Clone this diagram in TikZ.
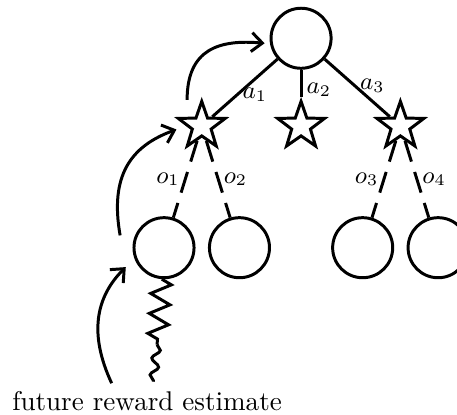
\documentclass[tikz,border=0pt]{standalone}
\usetikzlibrary{positioning, arrows.meta, shapes, decorations.pathmorphing}
\tikzset{
        >={Straight Barb[length=4pt,width=7pt]}, % open arrow heads
        line join=round,
    }
\tikzstyle{vertex}=[draw,circle,minimum size=0.78cm,inner sep=0pt]
\tikzstyle{starvertex}=[draw,star,star points=5,star point ratio=2.5,minimum size=0.64cm,inner sep=0pt]
\tikzstyle{lbl}=[font=\small,inner sep=1.5pt]

\begin{document}
\begin{tikzpicture}[line width=1.1pt,
    level 1/.style={level distance=1.14cm, sibling distance=1.29cm},
    level 2/.style={level distance=1.58cm, sibling distance=0.98cm,
        edge from parent/.style={draw,dash pattern=on 8pt off 4pt}}]
    \useasboundingbox (0,0) rectangle (5.935,5.377);
    \node[vertex] (root) at (3.91,4.88)
    {}
        child {
            node[starvertex] (act1) {}
            child {
                node[vertex] (obs1) {}
                edge from parent node[lbl,left,pos=0.5] {$o_1$}
            }
            child {
                node[vertex] (obs2) {}
                edge from parent node[lbl,right,pos=0.5] {$o_2$}
            }
            edge from parent node[lbl,right,pos=0.62] {$a_1$}
        } child {
            node[starvertex] (act2) {}
            edge from parent node[lbl,right,pos=0.75] {$a_2$}
        } child {
            node[starvertex] (act3) {}
            child {
                node[vertex] (obs3) {}
                edge from parent node[lbl,left,pos=0.5] {$o_3$}
            }
            child {
                node[vertex] (obs4) {}
                edge from parent node[lbl,right,pos=0.5] {$o_4$}
            }
            edge from parent node[lbl,right,pos=0.46] {$a_3$}
        }
    ;
    % rollout from the first observation
    \coordinate (wave) at (2.04,0.90);
    \coordinate (est) at (1.99,0.42);
    \draw[decorate,decoration={zigzag,segment length=0.26cm,amplitude=0.13cm}] (obs1) -- (wave);
    \draw[decorate,decoration={snake,segment length=0.22cm,amplitude=0.05cm}] (wave) -- (est);
    \node (caption) at (1.91,0.17) {future reward estimate};
    % backup arrows
    \coordinate (up1) at (2.43,4.08);
    \coordinate (up2) at (1.56,2.32);
    \coordinate (up3) at (1.45,0.40);
    \draw[->,shorten >=2pt] (up1) to[out=90,in=175,looseness=1.3] (root.190);
    \draw[->,shorten >=3.7pt] (up2) to[out=100,in=200,looseness=1.2] (act1.west);
    \draw[->,shorten >=4.5pt] (up3) to[out=115,in=225,looseness=1.1] (obs1.200);
\end{tikzpicture}
\end{document}
